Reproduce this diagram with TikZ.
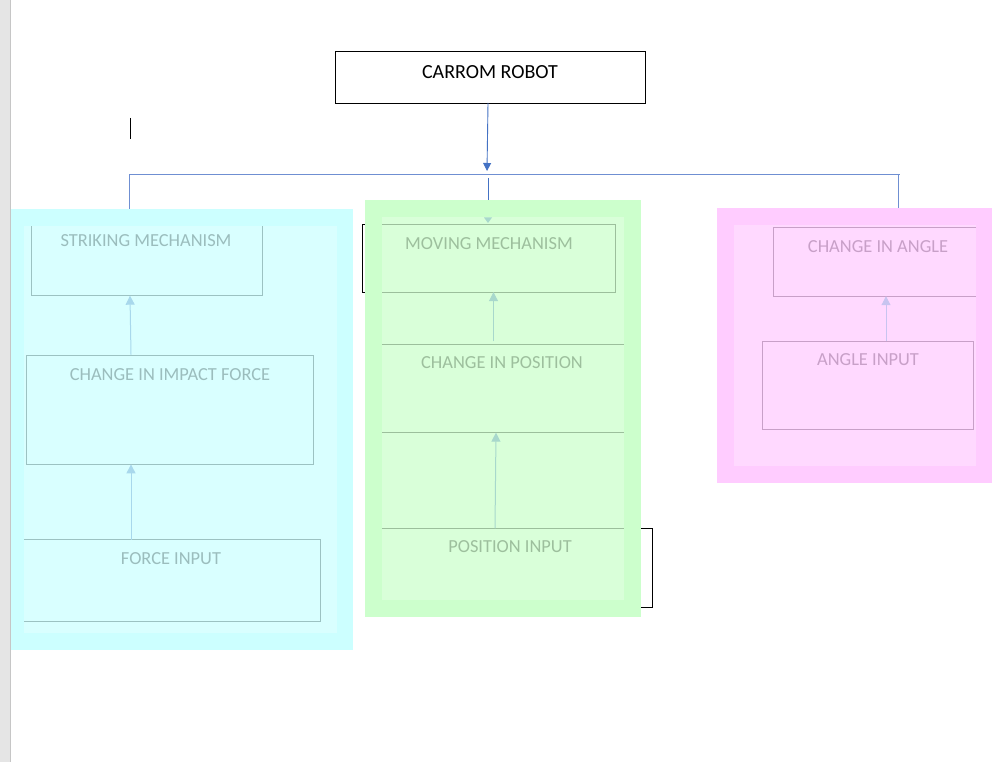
\documentclass[tikz,border=0pt]{standalone}
\usepackage{fontspec}
\setmainfont{Carlito}
\usetikzlibrary{arrows.meta,calc}
\definecolor{blueln}{HTML}{4472C4}
\definecolor{bluelt}{HTML}{6F8FD2}
\definecolor{cyanout}{HTML}{CCFFFF}
\definecolor{cyanin}{HTML}{D9FFFF}
\definecolor{cyanln}{HTML}{9CC2C2}
\definecolor{cyantx}{HTML}{9BBDBD}
\definecolor{greenout}{HTML}{CCFFCC}
\definecolor{greenin}{HTML}{D9FFD9}
\definecolor{greenln}{HTML}{9CBF9C}
\definecolor{greentx}{HTML}{9DBF9D}
\definecolor{pinkout}{HTML}{FFCCFF}
\definecolor{pinkin}{HTML}{FFD9FF}
\definecolor{pinkln}{HTML}{C8A0C8}
\definecolor{pinktx}{HTML}{C8A0C8}
\definecolor{arrcy}{HTML}{A8D8EC}
\definecolor{arrgr}{HTML}{A8D8CC}
\definecolor{arrpk}{HTML}{C8C4F0}
\begin{document}
\begin{tikzpicture}[x=1pt,y=-1pt,
  box/.style={draw,rectangle,inner sep=0,line width=0.8pt},
  hbox/.style={draw=none,rectangle,inner sep=0},
  title/.style={font=\fontsize{20}{22}\selectfont,inner sep=0,text=black},
  lbl/.style={font=\fontsize{18.4}{20}\selectfont,inner sep=0},
  edge/.style={line width=0.8pt},
  main/.style={blueln,line width=0.9pt,-{Triangle[length=8pt,width=8pt]}},
  bluel/.style={bluelt,line width=1pt},
  inarr/.style={line width=1pt,-{Triangle[length=9pt,width=9pt]}}]
\useasboundingbox (0,0) rectangle (993,762);
\fill[white] (0,0) rectangle (993,762);
% left gray strip
\fill[gray!20] (0,0) rectangle (10,762);
\draw[gray!45,line width=1pt] (10.5,0) -- (10.5,762);

% title
\node[box,minimum width=310pt,minimum height=52pt,draw=black] (robot) at (490,77) {};
\node[title] (robottx) at (490,72.5) {CARROM ROBOT};

% connectors
\coordinate (robotout) at (488,103);
\coordinate (bus) at (487,171);
\draw[main] (robotout) -- (bus);
\coordinate (busL) at (129,175);
\coordinate (busR) at (900,175);
\draw[bluel] (busL) -- (busR);
\coordinate (dropL) at (129,210);
\coordinate (dropMt) at (488,178);
\coordinate (dropM) at (488,201);
\coordinate (dropRt) at (898,175);
\coordinate (dropR) at (898,209);
\draw[bluel] (busL) -- (dropL);
\draw[blueln,line width=0.9pt] (dropMt) -- (dropM);
\draw[bluel] (dropRt) -- (dropR);
% small black mark
\draw[black,line width=1pt] (130,118) -- (130,139);

% brackets (behind green panel)
\draw[black,line width=1pt] (380,225) -- (362.5,225) -- (362.5,292) -- (380,292);
\draw[black,line width=1pt] (630,528) -- (652.5,528) -- (652.5,607) -- (630,607);

% ---------- cyan panel
\fill[cyanout] (11,209) rectangle (353,650);
\fill[cyanin] (24,226) rectangle (337,633);
\node[hbox,minimum width=230pt,minimum height=69pt] (sm) at (147,261) {};
\draw[edge,cyanln] (sm.north west) -- (sm.south west) -- (sm.south east) -- (sm.north east);
\node[lbl,text=cyantx] at (146,240.5) {STRIKING MECHANISM};
\node[box,draw=cyanln,minimum width=287pt,minimum height=109pt] (cif) at (169.5,409.5) {};
\node[lbl,text=cyantx] at (170,374.5) {CHANGE IN IMPACT FORCE};
\node[hbox,minimum width=296pt,minimum height=81pt] (fi) at (172,580.5) {};
\draw[edge,cyanln] (fi.north west) -- (fi.north east) -- (fi.south east) -- (fi.south west);
\node[lbl,text=cyantx] at (171,558.5) {FORCE INPUT};
\draw[inarr,arrcy] ([xshift=-38.5pt]cif.north) -- ([xshift=-17pt]sm.south);
\draw[inarr,arrcy] ([xshift=-41pt]fi.north) -- ([xshift=-38.5pt]cif.south);

% ---------- green panel
\fill[greenout] (365,200) rectangle (641,617);
\fill[greenin] (382,217) rectangle (624,600);
\node[hbox,minimum width=233pt,minimum height=67pt] (mm) at (498.5,258.5) {};
\draw[edge,greenln] (mm.north west) -- (mm.north east) -- (mm.south east) -- (mm.south west);
\node[lbl,text=greentx] at (489,243.5) {MOVING MECHANISM};
\node[hbox,minimum width=242pt,minimum height=88pt] (cp) at (503,388.5) {};
\draw[edge,greenln] (cp.north west) -- (cp.north east);
\draw[edge,greenln] (cp.south west) -- (cp.south east);
\node[lbl,text=greentx] at (502,362.5) {CHANGE IN POSITION};
\node[hbox,minimum width=242pt,minimum height=72pt] (pi) at (503,564.5) {};
\draw[edge,greenln] (pi.north west) -- (pi.north east);
\node[lbl,text=greentx] at (510,546.5) {POSITION INPUT};
\draw[inarr,arrgr] ([xshift=-9.5pt,yshift=3pt]cp.north) -- ([xshift=-5pt]mm.south);
\draw[inarr,arrgr] ([xshift=-8pt]pi.north) -- ([xshift=-7pt]cp.south);
\fill[arrgr] (484,217.5) -- (492,217.5) -- (488,223) -- cycle;

% ---------- pink panel
\fill[pinkout] (717,208) rectangle (992,483);
\fill[pinkin] (734,225) rectangle (976,466);
\node[hbox,minimum width=202pt,minimum height=68pt] (cia) at (875,262) {};
\draw[edge,pinkln] (cia.north east) -- (cia.north west) -- (cia.south west) -- (cia.south east);
\node[lbl,text=pinktx] at (878,246.5) {CHANGE IN ANGLE};
\node[box,draw=pinkln,minimum width=211pt,minimum height=88pt] (ai) at (867.5,385) {};
\node[lbl,text=pinktx] at (868,359.5) {ANGLE INPUT};
\draw[inarr,arrpk] ([xshift=18.5pt]ai.north) -- ([xshift=11pt]cia.south);
\end{tikzpicture}
\end{document}
